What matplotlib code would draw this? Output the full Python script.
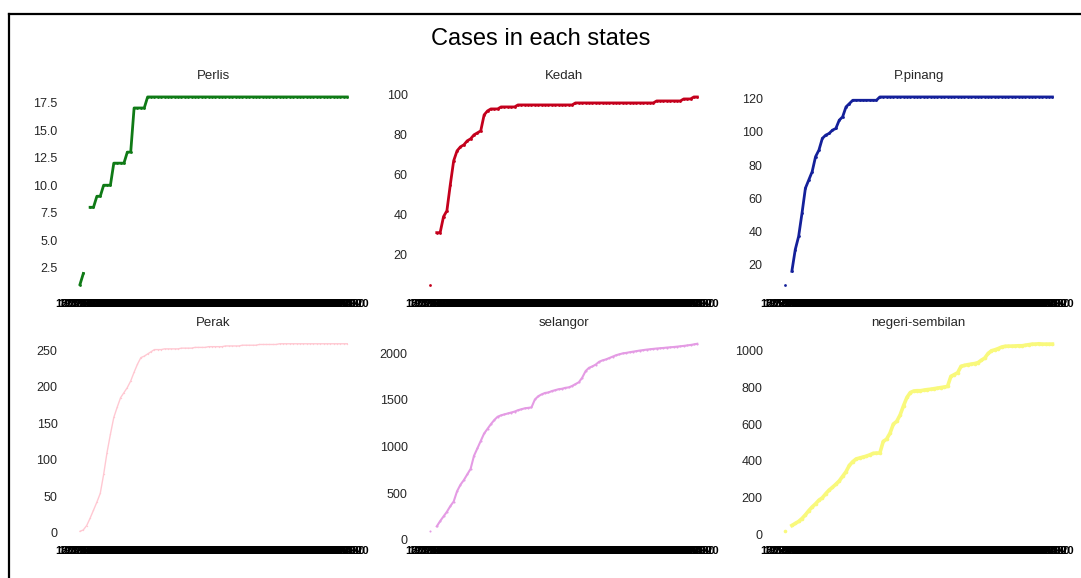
import numpy as np
import pandas as pd
import matplotlib
matplotlib.use('Agg')
import matplotlib.pyplot as plt
from matplotlib.lines import Line2D

plt.rcParams['font.family'] = ['Liberation Sans', 'DejaVu Sans']

nan = np.nan

# daily dates, one tick label per day
days = pd.date_range('2020-03-18', periods=80, freq='D')
date_labels = [f'{d.day}/{d.month}/{d.year}' for d in days]

perlis = [1, 2, nan, 8, 8, 9, 9, 10, 10, 10, 12, 12, 12, 12, 13, 13, 17, 17, 17, 17,
          18, 18, 18, 18, 18, 18, 18, 18, 18, 18, 18, 18, 18, 18, 18, 18, 18, 18, 18, 18,
          18, 18, 18, 18, 18, 18, 18, 18, 18, 18, 18, 18, 18, 18, 18, 18, 18, 18, 18, 18,
          18, 18, 18, 18, 18, 18, 18, 18, 18, 18, 18, 18, 18, 18, 18, 18, 18, 18, 18, 18]

kedah = [5, nan, 31, 31, 39, 42, 55, 67, 72, 74, 75, 77, 78, 80, 81, 82, 90, 92, 93, 93,
         93, 94, 94, 94, 94, 94, 95, 95, 95, 95, 95, 95, 95, 95, 95, 95, 95, 95, 95, 95,
         95, 95, 95, 96, 96, 96, 96, 96, 96, 96, 96, 96, 96, 96, 96, 96, 96, 96, 96, 96,
         96, 96, 96, 96, 96, 96, 96, 97, 97, 97, 97, 97, 97, 97, 97, 98, 98, 98, 99, 99]

ppinang = [8, nan, 16, 29, 37, 51, 66, 71, 76, 85, 89, 96, 98, 99, 101, 102, 107, 109, 115, 117,
           119, 119, 119, 119, 119, 119, 119, 119, 121, 121, 121, 121, 121, 121, 121, 121, 121, 121, 121, 121,
           121, 121, 121, 121, 121, 121, 121, 121, 121, 121, 121, 121, 121, 121, 121, 121, 121, 121, 121, 121,
           121, 121, 121, 121, 121, 121, 121, 121, 121, 121, 121, 121, 121, 121, 121, 121, 121, 121, 121, 121]

perak = [2, 4, 10, 20, 31, 42, 54, 80, 110, 135, 158, 172, 185, 192, 199, 208, 220, 231, 240, 242,
         245, 248, 251, 251, 251, 252, 252, 252, 252, 252, 253, 253, 253, 253, 254, 254, 254, 254, 255, 255,
         255, 255, 255, 256, 256, 256, 256, 256, 257, 257, 257, 257, 257, 258, 258, 258, 258, 258, 258, 259,
         259, 259, 259, 259, 259, 259, 259, 259, 259, 259, 259, 259, 259, 259, 259, 259, 259, 259, 259, 259]

selangor = [90, nan, 143, 200, 250, 300, 360, 410, 520, 590, 640, 700, 760, 900, 980, 1060, 1140, 1190, 1240, 1285,
            1320, 1335, 1345, 1355, 1365, 1375, 1390, 1400, 1410, 1415, 1420, 1505, 1540, 1560, 1575, 1580, 1595, 1605, 1615, 1620,
            1630, 1635, 1650, 1670, 1690, 1740, 1810, 1845, 1860, 1880, 1910, 1925, 1935, 1950, 1965, 1980, 1990, 2000, 2005, 2012,
            2018, 2024, 2030, 2035, 2040, 2044, 2048, 2052, 2055, 2058, 2062, 2065, 2068, 2072, 2076, 2080, 2085, 2090, 2096, 2103]

negeri = [15, nan, 47, 58, 69, 85, 105, 128, 148, 165, 185, 198, 220, 240, 255, 272, 290, 315, 340, 375,
          395, 410, 415, 420, 425, 432, 440, 442, 442, 505, 518, 550, 600, 615, 650, 700, 745, 772, 780, 782,
          782, 785, 788, 790, 793, 796, 799, 802, 805, 860, 870, 880, 915, 920, 924, 927, 930, 935, 948, 960,
          985, 1000, 1005, 1012, 1020, 1024, 1025, 1025, 1026, 1027, 1027, 1030, 1033, 1036, 1036, 1038, 1036, 1036, 1036, 1036]

states = ['Perlis', 'Kedah', 'P.pinang', 'Perak', 'selangor', 'negeri-sembilan']
series = [perlis, kedah, ppinang, perak, selangor, negeri]
colors = ['#0f7a16', '#c4001c', '#14209a', '#ffc8d2', '#e49be4', '#f9f97c']
widths = [2.0, 2.0, 2.0, 1.0, 1.5, 2.6]

fig = plt.figure(figsize=(10.81, 5.78), dpi=100)

lefts = [0.0616, 0.3854, 0.7139]
bottoms = [0.4915, 0.0645]
w, h = 0.272, 0.357

for k, (name, vals) in enumerate(zip(states, series)):
    ax = fig.add_axes([lefts[k % 3], bottoms[k // 3], w, h])
    ax.plot(date_labels, vals, color=colors[k], lw=widths[k],
            marker='o', ms=widths[k], mew=0)
    ax.set_title(name, fontsize=9.5, color='0.15')
    for s in ax.spines.values():
        s.set_visible(False)
    ax.tick_params(length=0, labelsize=9, labelcolor='0.15', pad=6.5)
    ax.tick_params(axis='x', labelsize=8, labelcolor='black', pad=3.5)
    for lab in ax.get_xticklabels():
        lab.set_fontweight('bold')

fig.suptitle('Cases in each states', fontsize=17, y=0.952)

# frame lines on the left and top of the figure
fig.add_artist(Line2D([0.0083, 0.0083], [0.0, 0.976], color='black', lw=1.6,
                      transform=fig.transFigure))
fig.add_artist(Line2D([0.0083, 1.0], [0.976, 0.976], color='black', lw=1.6,
                      transform=fig.transFigure))

fig.savefig('out.png', dpi=100)
